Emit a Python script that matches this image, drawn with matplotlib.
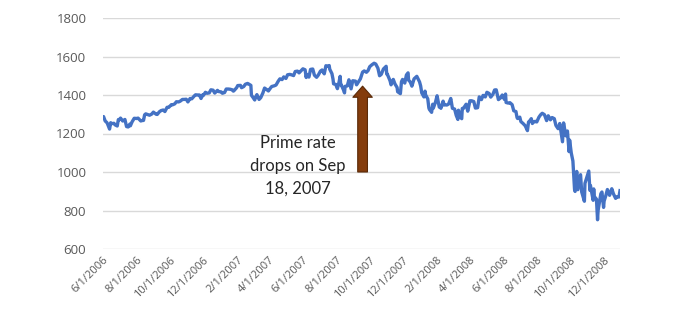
import matplotlib
matplotlib.use("Agg")
import matplotlib.pyplot as plt
import matplotlib.dates as mdates
import pandas as pd

# S&P 500 closing levels, Jun 2006 - Dec 2008
dates = [
    "2006-06-01", "2006-06-02", "2006-06-05", "2006-06-08", "2006-06-09", "2006-06-13", "2006-06-15",
    "2006-06-16", "2006-06-21", "2006-06-23", "2006-06-27", "2006-06-29", "2006-06-30", "2006-07-03",
    "2006-07-07", "2006-07-11", "2006-07-14", "2006-07-17", "2006-07-20", "2006-07-21", "2006-07-24",
    "2006-07-28", "2006-08-02", "2006-08-04", "2006-08-09", "2006-08-11", "2006-08-14", "2006-08-16",
    "2006-08-18", "2006-08-22", "2006-08-25", "2006-08-29", "2006-09-01", "2006-09-06", "2006-09-08",
    "2006-09-12", "2006-09-15", "2006-09-19", "2006-09-22", "2006-09-26", "2006-09-29", "2006-10-04",
    "2006-10-06", "2006-10-10", "2006-10-13", "2006-10-17", "2006-10-20", "2006-10-24", "2006-10-27",
    "2006-10-31", "2006-11-03", "2006-11-07", "2006-11-10", "2006-11-15", "2006-11-17", "2006-11-21",
    "2006-11-24", "2006-11-27", "2006-11-30", "2006-12-01", "2006-12-05", "2006-12-08", "2006-12-12",
    "2006-12-15", "2006-12-19", "2006-12-22", "2006-12-27", "2006-12-29",
    "2007-01-03", "2007-01-05", "2007-01-09", "2007-01-12", "2007-01-16", "2007-01-19", "2007-01-23",
    "2007-01-25", "2007-01-26", "2007-01-31", "2007-02-02", "2007-02-07", "2007-02-09", "2007-02-13",
    "2007-02-16", "2007-02-20", "2007-02-22", "2007-02-26", "2007-02-27", "2007-03-02", "2007-03-05",
    "2007-03-07", "2007-03-09", "2007-03-13", "2007-03-16", "2007-03-20", "2007-03-23", "2007-03-27",
    "2007-03-30", "2007-04-03", "2007-04-05", "2007-04-10", "2007-04-13", "2007-04-17", "2007-04-20",
    "2007-04-24", "2007-04-27", "2007-05-01", "2007-05-04", "2007-05-08", "2007-05-11", "2007-05-15",
    "2007-05-18", "2007-05-22", "2007-05-25", "2007-05-30", "2007-06-01", "2007-06-05", "2007-06-07",
    "2007-06-08", "2007-06-12", "2007-06-15", "2007-06-19", "2007-06-22", "2007-06-26", "2007-06-29",
    "2007-07-03", "2007-07-06", "2007-07-10", "2007-07-13", "2007-07-16", "2007-07-19", "2007-07-20",
    "2007-07-24", "2007-07-26", "2007-07-27", "2007-07-31", "2007-08-03", "2007-08-06", "2007-08-08",
    "2007-08-09", "2007-08-10", "2007-08-14", "2007-08-16", "2007-08-17", "2007-08-21", "2007-08-24",
    "2007-08-28", "2007-08-31", "2007-09-05", "2007-09-07", "2007-09-11", "2007-09-14", "2007-09-18",
    "2007-09-21", "2007-09-25", "2007-09-28", "2007-10-01", "2007-10-05", "2007-10-09", "2007-10-12",
    "2007-10-16", "2007-10-19", "2007-10-22", "2007-10-26", "2007-10-31", "2007-11-01", "2007-11-02",
    "2007-11-07", "2007-11-09", "2007-11-13", "2007-11-16", "2007-11-20", "2007-11-21", "2007-11-26",
    "2007-11-28", "2007-11-30", "2007-12-04", "2007-12-07", "2007-12-10", "2007-12-11", "2007-12-14",
    "2007-12-17", "2007-12-21", "2007-12-26", "2007-12-31",
    "2008-01-02", "2008-01-04", "2008-01-08", "2008-01-10", "2008-01-11", "2008-01-15", "2008-01-17",
    "2008-01-18", "2008-01-22", "2008-01-24", "2008-01-25", "2008-01-29", "2008-02-01", "2008-02-05",
    "2008-02-07", "2008-02-08", "2008-02-12", "2008-02-14", "2008-02-15", "2008-02-19", "2008-02-22",
    "2008-02-26", "2008-02-29", "2008-03-04", "2008-03-07", "2008-03-10", "2008-03-11", "2008-03-14",
    "2008-03-17", "2008-03-18", "2008-03-20", "2008-03-25", "2008-03-28", "2008-04-01", "2008-04-04",
    "2008-04-08", "2008-04-11", "2008-04-15", "2008-04-18", "2008-04-22", "2008-04-25", "2008-04-29",
    "2008-05-02", "2008-05-06", "2008-05-09", "2008-05-13", "2008-05-16", "2008-05-19", "2008-05-23",
    "2008-05-27", "2008-05-30", "2008-06-03", "2008-06-05", "2008-06-06", "2008-06-10", "2008-06-13",
    "2008-06-17", "2008-06-20", "2008-06-24", "2008-06-26", "2008-06-27", "2008-07-01", "2008-07-03",
    "2008-07-07", "2008-07-11", "2008-07-15", "2008-07-17", "2008-07-18", "2008-07-22", "2008-07-24",
    "2008-07-25", "2008-07-29", "2008-08-01", "2008-08-05", "2008-08-08", "2008-08-11", "2008-08-15",
    "2008-08-19", "2008-08-22", "2008-08-26", "2008-08-29", "2008-09-02", "2008-09-05", "2008-09-09",
    "2008-09-12", "2008-09-15", "2008-09-17", "2008-09-19", "2008-09-23", "2008-09-26", "2008-09-29",
    "2008-09-30", "2008-10-03", "2008-10-06", "2008-10-09", "2008-10-10", "2008-10-13", "2008-10-15",
    "2008-10-17", "2008-10-20", "2008-10-22", "2008-10-24", "2008-10-27", "2008-10-28", "2008-10-31",
    "2008-11-04", "2008-11-06", "2008-11-07", "2008-11-12", "2008-11-13", "2008-11-14", "2008-11-18",
    "2008-11-20", "2008-11-21", "2008-11-24", "2008-11-26", "2008-11-28", "2008-12-01", "2008-12-02",
    "2008-12-05", "2008-12-08", "2008-12-12", "2008-12-16", "2008-12-19", "2008-12-23", "2008-12-26",
    "2008-12-29", "2008-12-31",
]
closes = [
    1285, 1288, 1265, 1257, 1252, 1223, 1256,
    1251, 1253, 1245, 1239, 1272, 1270, 1280,
    1265, 1273, 1236, 1234, 1249, 1240, 1260,
    1279, 1278, 1280, 1265, 1267, 1268, 1297,
    1302, 1298, 1295, 1301, 1311, 1300, 1299,
    1313, 1319, 1322, 1314, 1336, 1336, 1350,
    1349, 1354, 1365, 1364, 1368, 1377, 1377,
    1378, 1364, 1382, 1380, 1396, 1401, 1400,
    1400, 1382, 1401, 1397, 1414, 1409, 1411,
    1427, 1425, 1410, 1424, 1418,
    1416, 1409, 1413, 1431, 1431, 1430, 1427,
    1420, 1422, 1438, 1449, 1450, 1438, 1444,
    1456, 1460, 1457, 1450, 1399, 1387, 1374,
    1391, 1402, 1377, 1386, 1411, 1436, 1428,
    1421, 1437, 1444, 1448, 1452, 1472, 1484,
    1480, 1494, 1486, 1505, 1507, 1505, 1501,
    1522, 1524, 1515, 1530, 1536, 1531, 1491,
    1507, 1493, 1533, 1535, 1503, 1492, 1503,
    1524, 1530, 1510, 1552, 1550, 1553, 1534,
    1511, 1482, 1458, 1455, 1433, 1467, 1497,
    1453, 1453, 1427, 1411, 1445, 1447, 1479,
    1432, 1474, 1472, 1453, 1471, 1484, 1519,
    1525, 1518, 1527, 1547, 1557, 1565, 1561,
    1539, 1500, 1507, 1535, 1549, 1509, 1509,
    1475, 1453, 1481, 1458, 1439, 1417, 1407,
    1469, 1481, 1462, 1504, 1515, 1477, 1468,
    1446, 1484, 1497, 1468,
    1447, 1411, 1390, 1420, 1401, 1380, 1333,
    1325, 1310, 1352, 1331, 1362, 1396, 1337,
    1336, 1331, 1368, 1348, 1349, 1348, 1353,
    1382, 1331, 1327, 1294, 1273, 1321, 1288,
    1277, 1330, 1330, 1352, 1316, 1370, 1370,
    1366, 1332, 1334, 1390, 1376, 1398, 1390,
    1414, 1408, 1389, 1404, 1426, 1427, 1376,
    1385, 1400, 1377, 1405, 1361, 1358, 1360,
    1350, 1318, 1314, 1283, 1278, 1285, 1262,
    1252, 1240, 1215, 1260, 1261, 1277, 1252,
    1257, 1263, 1260, 1285, 1297, 1305, 1298,
    1267, 1292, 1271, 1283, 1277, 1242, 1225,
    1252, 1193, 1157, 1255, 1188, 1213, 1106,
    1166, 1099, 1057, 910, 899, 1003, 908,
    940, 986, 897, 877, 848, 941, 968,
    1005, 905, 930, 853, 912, 873, 859,
    752, 800, 852, 887, 896, 816, 849,
    876, 909, 879, 913, 887, 863, 872,
    870, 903,
]

y_ticks = [600, 800, 1000, 1200, 1400, 1600, 1800]
note_text = "Prime rate\ndrops on Sep\n18, 2007"
note_date = "2007-09-18"

x = pd.to_datetime(dates)

fig = plt.figure(figsize=(7, 3.25), dpi=100)
ax = fig.add_axes([103 / 700, 1 - 249 / 325, 517 / 700, 231 / 325])

ax.plot(x, closes, color="#4472C4", linewidth=2.4, solid_joinstyle="round")

ax.set_ylim(600, 1800)
ax.set_yticks(y_ticks)
ax.set_xlim(pd.Timestamp("2006-06-01"), pd.Timestamp("2008-12-31"))
ax.xaxis.set_major_locator(mdates.MonthLocator(bymonth=[2, 4, 6, 8, 10, 12]))
ax.xaxis.set_major_formatter(
    matplotlib.ticker.FuncFormatter(lambda v, p: "%d/1/%d" % (mdates.num2date(v).month, mdates.num2date(v).year)))

ax.grid(axis="y", color="#d9d9d9", linewidth=1.0)
ax.set_axisbelow(True)
for s in ax.spines.values():
    s.set_visible(False)
ax.tick_params(length=0, colors="#595959")
ax.tick_params(axis="y", pad=12, labelsize=9.5)
ax.tick_params(axis="x", pad=4, labelsize=8)
for lab in ax.get_yticklabels() + ax.get_xticklabels():
    lab.set_fontfamily("Open Sans")
for lab in ax.get_xticklabels():
    lab.set_rotation(45)
    lab.set_ha("right")
    lab.set_rotation_mode("anchor")

# arrow pointing up from the note to the curve
ax.annotate("", xy=(pd.Timestamp(note_date), 1446), xytext=(pd.Timestamp(note_date), 1000),
            arrowprops=dict(width=7, headwidth=14, headlength=8,
                            facecolor="#843C0C", edgecolor="#5a2a08", linewidth=0.8))
ax.text(pd.Timestamp("2007-05-22"), 1033, note_text, ha="center", va="center",
        fontsize=12, family="Lato", color="#262626", linespacing=1.5)

fig.savefig("out.png", dpi=100)
